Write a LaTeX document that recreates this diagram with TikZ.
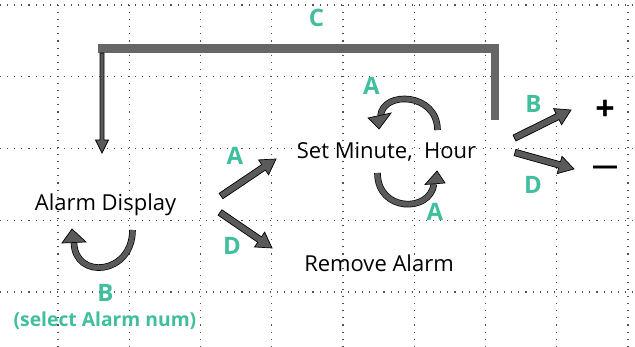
\documentclass[tikz,border=0pt]{standalone}
\usepackage{fontspec}
\setmainfont{Open Sans}
\usetikzlibrary{calc}
\definecolor{tealc}{RGB}{64,190,158}
\definecolor{agray}{RGB}{90,90,90}
\definecolor{cgray}{RGB}{102,102,102}
\definecolor{gridc}{RGB}{80,80,80}
\tikzset{
  ba w/.store in=\baw, ba W/.store in=\baW, ba h/.store in=\bah,
  ba w=3.3pt, ba W=9pt, ba h=15pt,
  blockarrow/.style={fill=agray, draw=black, line width=0.7pt, line join=miter,
    to path={($(\tikztostart)!\baw!90:(\tikztotarget)$)
      -- ($(\tikztotarget)!\bah!(\tikztostart)!\baw!90:(\tikztotarget)$)
      -- ($(\tikztotarget)!\bah!(\tikztostart)!\baW!90:(\tikztotarget)$)
      -- (\tikztotarget)
      -- ($(\tikztotarget)!\bah!(\tikztostart)!\baW!-90:(\tikztotarget)$)
      -- ($(\tikztotarget)!\bah!(\tikztostart)!\baw!-90:(\tikztotarget)$)
      -- ($(\tikztostart)!\baw!-90:(\tikztotarget)$) -- cycle}},
  cshaft/.style={draw=agray, line width=5.2pt, preaction={draw=black, line width=6.6pt}},
  chead/.style={fill=agray, draw=black, line width=0.7pt, line join=miter},
  cline/.style={draw=cgray, line width=8.5pt, line join=miter},
  gridline/.style={draw=gridc, line width=1.1pt, dash pattern=on 1.1pt off 6pt},
  lbl/.style={text=tealc, font=\fontsize{24}{26}\selectfont\bfseries, inner sep=0pt, anchor=base},
  sublbl/.style={text=tealc, font=\fontsize{19.3}{23}\selectfont\bfseries, inner sep=0pt, anchor=base},
  txt/.style={font=\fontsize{22}{25}\selectfont, inner sep=0pt, anchor=base},
  sym/.style={font=\fontsize{26}{28}\selectfont\bfseries, inner sep=0pt},
  bigsym/.style={font=\fontsize{34}{36}\selectfont\bfseries, inner sep=0pt}
}
\begin{document}
\begin{tikzpicture}[x=1pt,y=-1pt]
\useasboundingbox (0,0) rectangle (635,347);
% grid
\foreach \gy in {5,76.75,148.5,220.25,292}
  \draw[gridline] (0,\gy) -- (635,\gy);
\foreach \gx in {58,129.25,200.5,271.75,343,414.25,485.5,556.75,628}
  \draw[gridline] (\gx,5) -- (\gx,347);

% texts
\node[txt] (disp) at (105.5,211) {Alarm Display};
\node[txt] (set) at (386.5,158.5) {Set Minute,\ \ Hour};
\node[txt] (rem) at (379,272) {Remove Alarm};
\node[lbl] (lC) at (316.5,26.5) {C};
\node[lbl] (lB1) at (105.5,302) {B};
\node[sublbl] (lsel) at (105,327) {(select Alarm num)};
\node[lbl] (lA1) at (235,165) {A};
\node[lbl] (lD1) at (232,255) {D};
\node[lbl] (lA2) at (371.5,95) {A};
\node[lbl] (lA3) at (435,221) {A};
\node[lbl] (lB2) at (533.5,113) {B};
\node[lbl] (lD2) at (533,194) {D};
\node[bigsym] (plus) at (605,110) {+};
\node[sym] (minus) at (605,170.5) {—};

% C connector
\coordinate (c1) at (495,120);
\coordinate (c2) at (98,48.5);
\draw[cline] (c1) |- (c2);
\coordinate (d1) at (102,53);
\coordinate (d2) at (102,153);
\draw[blockarrow, ba w=2pt, ba W=6.5pt, ba h=13pt] (d1) to (d2);

% straight block arrows
\coordinate (a1s) at (221,196); \coordinate (a1t) at (276,159);
\coordinate (d1s) at (220,212.5); \coordinate (d1t) at (272,248);
\coordinate (b2s) at (514.5,138); \coordinate (b2t) at (571,110);
\coordinate (d2s) at (515,152.5); \coordinate (d2t) at (574,169);
\draw[blockarrow] (a1s) to (a1t);
\draw[blockarrow] (d1s) to (d1t);
\draw[blockarrow] (b2s) to (b2t);
\draw[blockarrow] (d2s) to (d2t);

% curved arrows
\coordinate (u1s) at (132.5,230); \coordinate (u1e) at (74,243);
\draw[cshaft] (u1s) .. controls (132.5,275) and (75,280) .. (u1e);
\draw[chead] (72,229) -- (62,243) -- (86,242) -- cycle;

\coordinate (u2s) at (437.5,130); \coordinate (u2e) at (380.5,116);
\draw[cshaft] (u2s) .. controls (437.5,93) and (383,90) .. (u2e);
\draw[chead] (379,129) -- (368,118) -- (391,113) -- cycle;

\coordinate (u3s) at (377.5,173); \coordinate (u3e) at (434,184);
\draw[cshaft] (u3s) .. controls (377.5,212) and (430,213) .. (u3e);
\draw[chead] (437,171) -- (425,184.5) -- (445,183) -- cycle;
\end{tikzpicture}
\end{document}
